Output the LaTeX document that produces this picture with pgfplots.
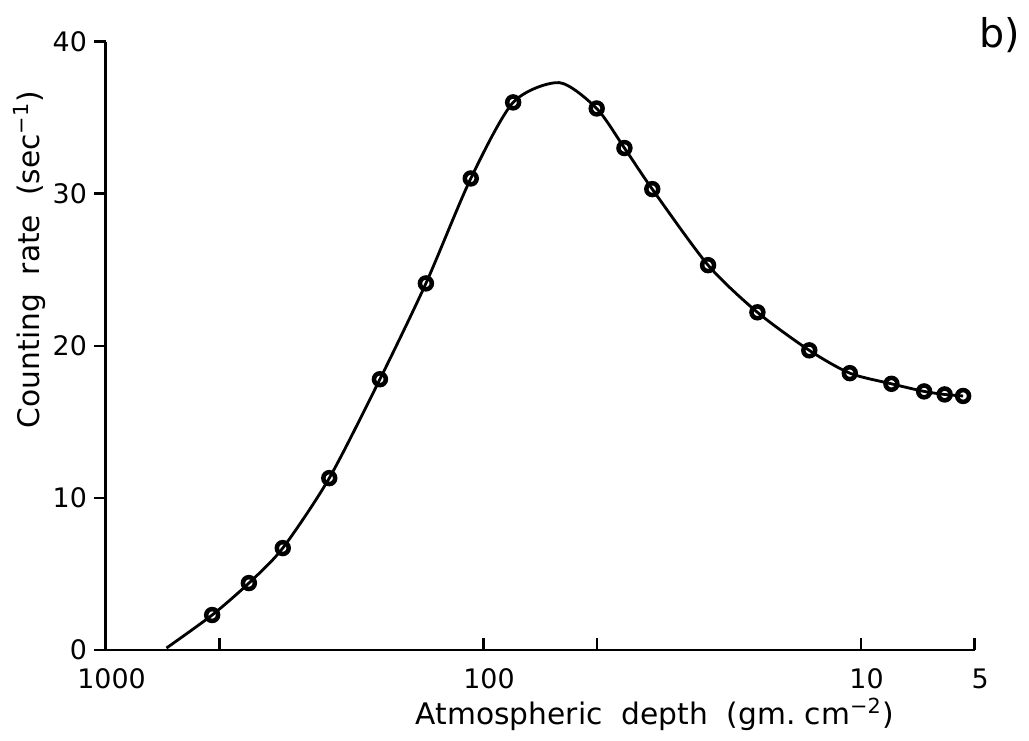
\documentclass[border=0pt]{standalone}
\usepackage{fontspec}
\setmainfont{DejaVu Sans}
\usepackage{pgfplots}
\pgfplotsset{compat=1.18}

\begin{document}
\begin{tikzpicture}
\begin{axis}[
  scale only axis,
  width=307.3pt, height=215.25pt,
  xmode=log, x dir=reverse,
  xmin=5, xmax=1000, ymin=0, ymax=40,
  axis lines*=left,
  axis line style={line width=1pt},
  % with x dir=reverse, "outside" puts the y ticks on the plot side
  xtick align=inside, ytick align=outside,
  major tick length=4.2pt,
  tick style={line width=0.9pt, black},
  xtick={5,10,50,100,500,1000},
  xticklabels={5,10,,100,,1000},
  xminorticks=false,
  ytick={0,10,20,30,40},
  /pgf/number format/assume math mode=true,
  tick label style={font=\fontsize{9.5}{11}\selectfont},
  xticklabel style={yshift=-3pt, xshift=2pt},
  yticklabel style={xshift=1pt},
  ylabel={Counting\ \ rate\ \ (sec\textsuperscript{−1})},
  ylabel style={at={(rel axis cs:-0.088,0.642)}, anchor=center, rotate=0,
                font=\fontsize{10.5}{12}\selectfont},
  xlabel={Atmospheric\ \ depth\ \ (gm.\ cm\textsuperscript{−2})},
  xlabel style={at={(rel axis cs:0.632,-0.106)}, anchor=center,
                font=\fontsize{10.5}{12}\selectfont},
  clip=false,
]
% counting rate curve
\addplot[smooth, tension=0.45, line width=1pt, black] coordinates {
  (691,0.13) (523,2.3) (418,4.4) (340,6.7) (256,11.3) (188,17.8)
  (142,24.1) (108,31.0) (83.4,36.0) (63,37.3) (50.1,35.6) (42.3,33.0)
  (35.7,30.3) (25.4,25.3) (18.8,22.2) (13.7,19.7) (10.7,18.2)
  (8.3,17.5) (6.8,17.0) (6.0,16.8) (5.36,16.7)
};
% measured points
\addplot[only marks, mark=o, mark size=2.1pt, line width=1.6pt, black,
         mark options={fill=white}] coordinates {
  (523,2.3) (418,4.4) (340,6.7) (256,11.3) (188,17.8)
  (142,24.1) (108,31.0) (83.4,36.0) (50.1,35.6) (42.3,33.0)
  (35.7,30.3) (25.4,25.3) (18.8,22.2) (13.7,19.7) (10.7,18.2)
  (8.3,17.5) (6.8,17.0) (6.0,16.8) (5.36,16.7)
};
\node[font=\fontsize{14}{16}\selectfont] at (rel axis cs:1.0285,1.01) {b)};
\path (rel axis cs:-0.1219,-0.1463) rectangle (rel axis cs:1.0501,1.0683);
\end{axis}
\end{tikzpicture}
\end{document}
